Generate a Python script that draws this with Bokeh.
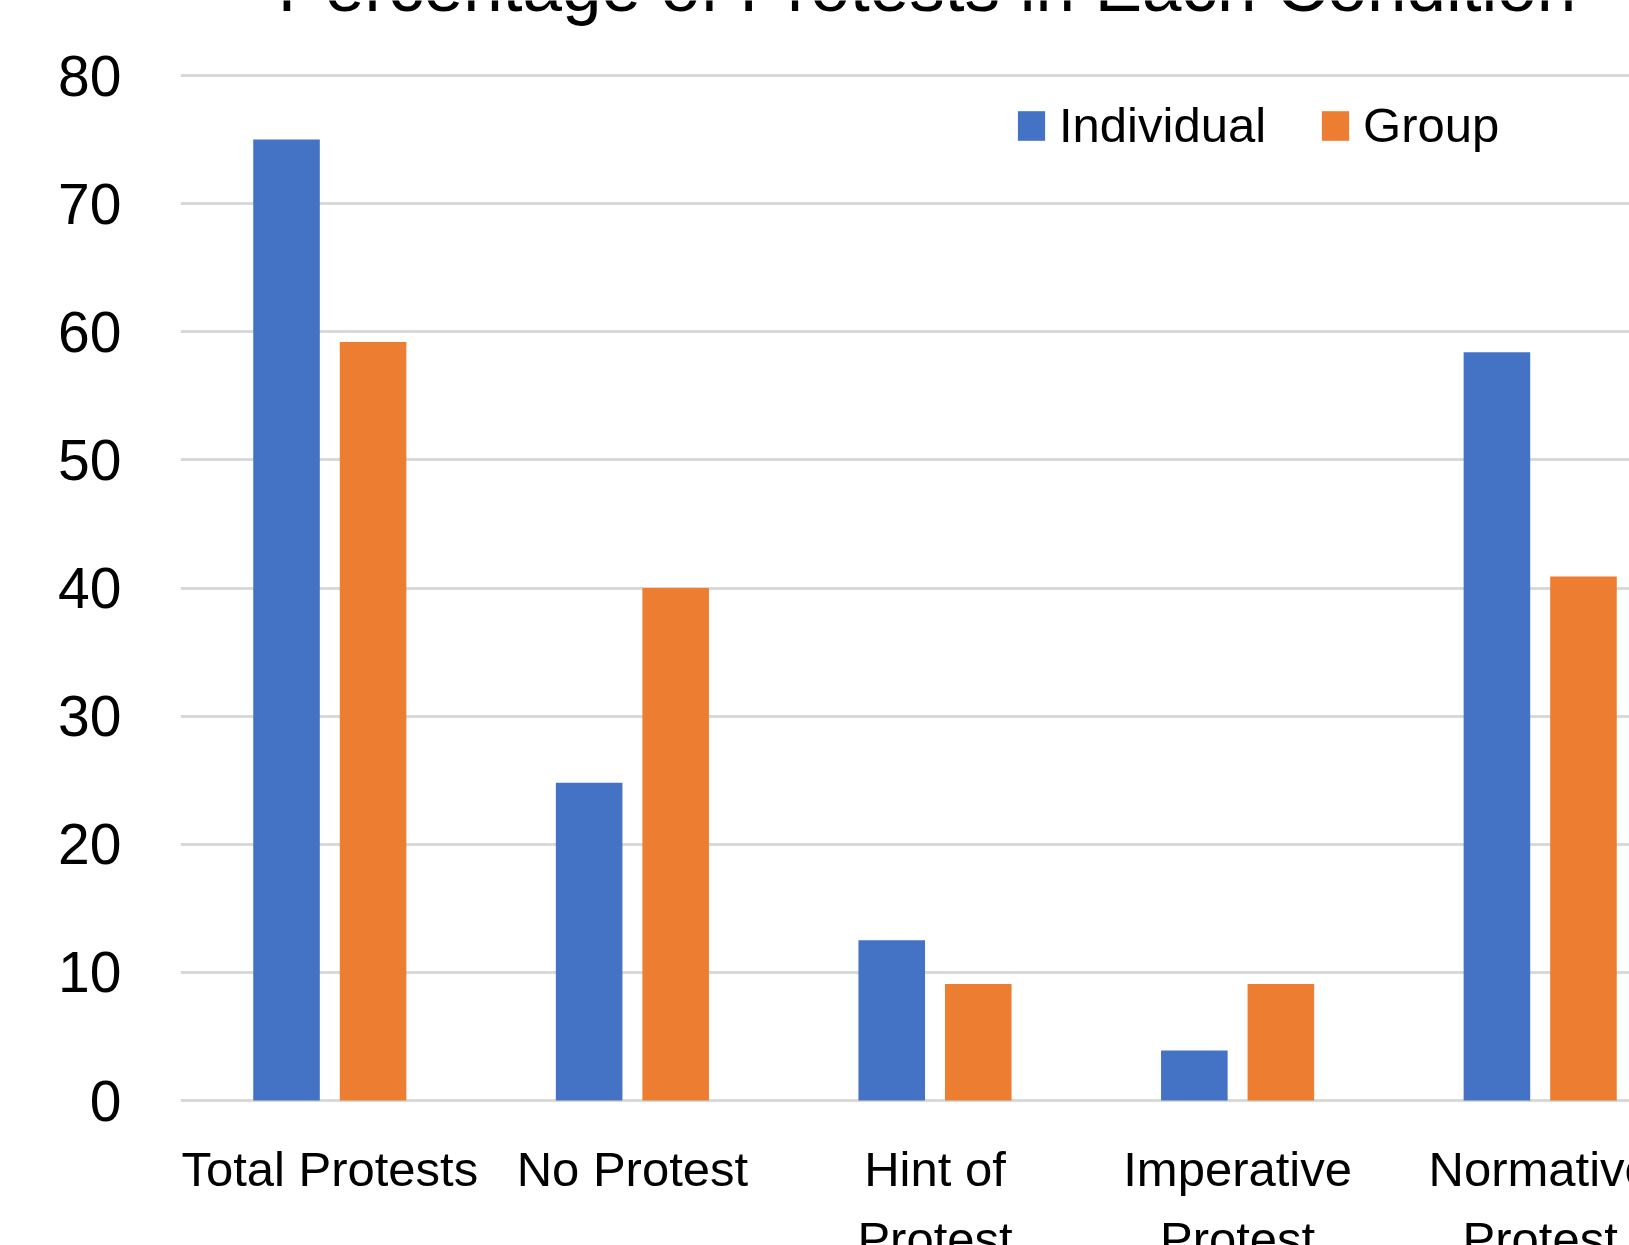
from bokeh.plotting import figure
from bokeh.models import Range1d, FixedTicker, ColumnDataSource, Legend, LegendItem
from bokeh.embed import file_html
from bokeh.resources import INLINE
from bokeh.core.properties import value

# ---- data ----
chart_title = "Percentage of Protests in Each Condition"
categories = ["Total Protests", "No Protest", "Hint of\nProtest", "Imperative\nProtest", "Normative\nProtest"]
individual = [75.0, 24.8, 12.5, 3.9, 58.4]
group = [59.2, 40.0, 9.1, 9.1, 40.9]
series_names = ["Individual", "Group"]
y_ticks = [0, 10, 20, 30, 40, 50, 60, 70, 80]

# ---- layout constants ----
W, H = 1629, 1245
LEFT = 180
Y_TOP_PX, Y_ZERO_PX = 75, 1100
px_per_unit = (Y_ZERO_PX - Y_TOP_PX) / 80.0
y_end = 80 + Y_TOP_PX / px_per_unit
y_start = -(H - Y_ZERO_PX) / px_per_unit

cat_px = 302.6
x_start = 0.5 - (329.3 - LEFT) / cat_px
x_end = x_start + (W - LEFT) / cat_px


def px_to_x(px):
    return x_start + (px - LEFT) / cat_px


def px_to_y(py):
    return (Y_ZERO_PX - py) / px_per_unit


BLUE = "#4472C4"
ORANGE = "#ED7D31"
FONT = "Liberation Sans"

centers = [i + 0.5 for i in range(len(categories))]
off = 0.143
bw = 0.22

src = ColumnDataSource(dict(
    xi=[c - off for c in centers],
    xg=[c + off for c in centers],
    ind=individual,
    grp=group,
))

p = figure(width=W, height=H, output_backend="svg", toolbar_location=None,
           x_range=Range1d(x_start, x_end), y_range=Range1d(y_start, y_end),
           x_axis_location=None, min_border_left=LEFT, min_border_right=0,
           min_border_top=0, min_border_bottom=0)
p.outline_line_color = None
p.background_fill_color = "white"
p.border_fill_color = "white"

# y axis
p.yaxis.ticker = FixedTicker(ticks=y_ticks)
p.yaxis.axis_line_color = None
p.yaxis.major_tick_line_color = None
p.yaxis.minor_tick_line_color = None
p.yaxis.major_label_standoff = 53
p.yaxis.major_label_text_font = FONT
p.yaxis.major_label_text_font_size = "57px"
p.yaxis.major_label_text_color = "black"

p.xgrid.visible = False
p.ygrid.ticker = FixedTicker(ticks=y_ticks)
p.ygrid.grid_line_color = "#d9d9d9"
p.ygrid.grid_line_width = 3

r1 = p.vbar(x="xi", top="ind", bottom=0, width=bw, source=src, fill_color=BLUE, line_color=None)
r2 = p.vbar(x="xg", top="grp", bottom=0, width=bw, source=src, fill_color=ORANGE, line_color=None)

# category labels
p.text(x=centers, y=[px_to_y(1141)] * len(categories), text=categories,
       text_align="center", text_baseline="top",
       text_font=value(FONT), text_font_size="49px", text_color="black",
       text_line_height=1.306)

# title (clipped at the top)
p.text(x=[px_to_x(926.5)], y=[px_to_y(-14)], text=[chart_title],
       text_align="center", text_baseline="alphabetic",
       text_font=value(FONT), text_font_size="71px", text_color="black")

legend = Legend(items=[LegendItem(label=series_names[0], renderers=[r1]),
                       LegendItem(label=series_names[1], renderers=[r2])],
                orientation="horizontal", location=(1014 - LEFT, 1092),
                padding=0, margin=0, spacing=52, label_standoff=11,
                glyph_width=34, glyph_height=37,
                border_line_color=None, background_fill_alpha=0,
                label_text_font=FONT, label_text_font_size="49px",
                label_text_color="black")
p.add_layout(legend)

open("out.html", "w").write(file_html(p, INLINE))
